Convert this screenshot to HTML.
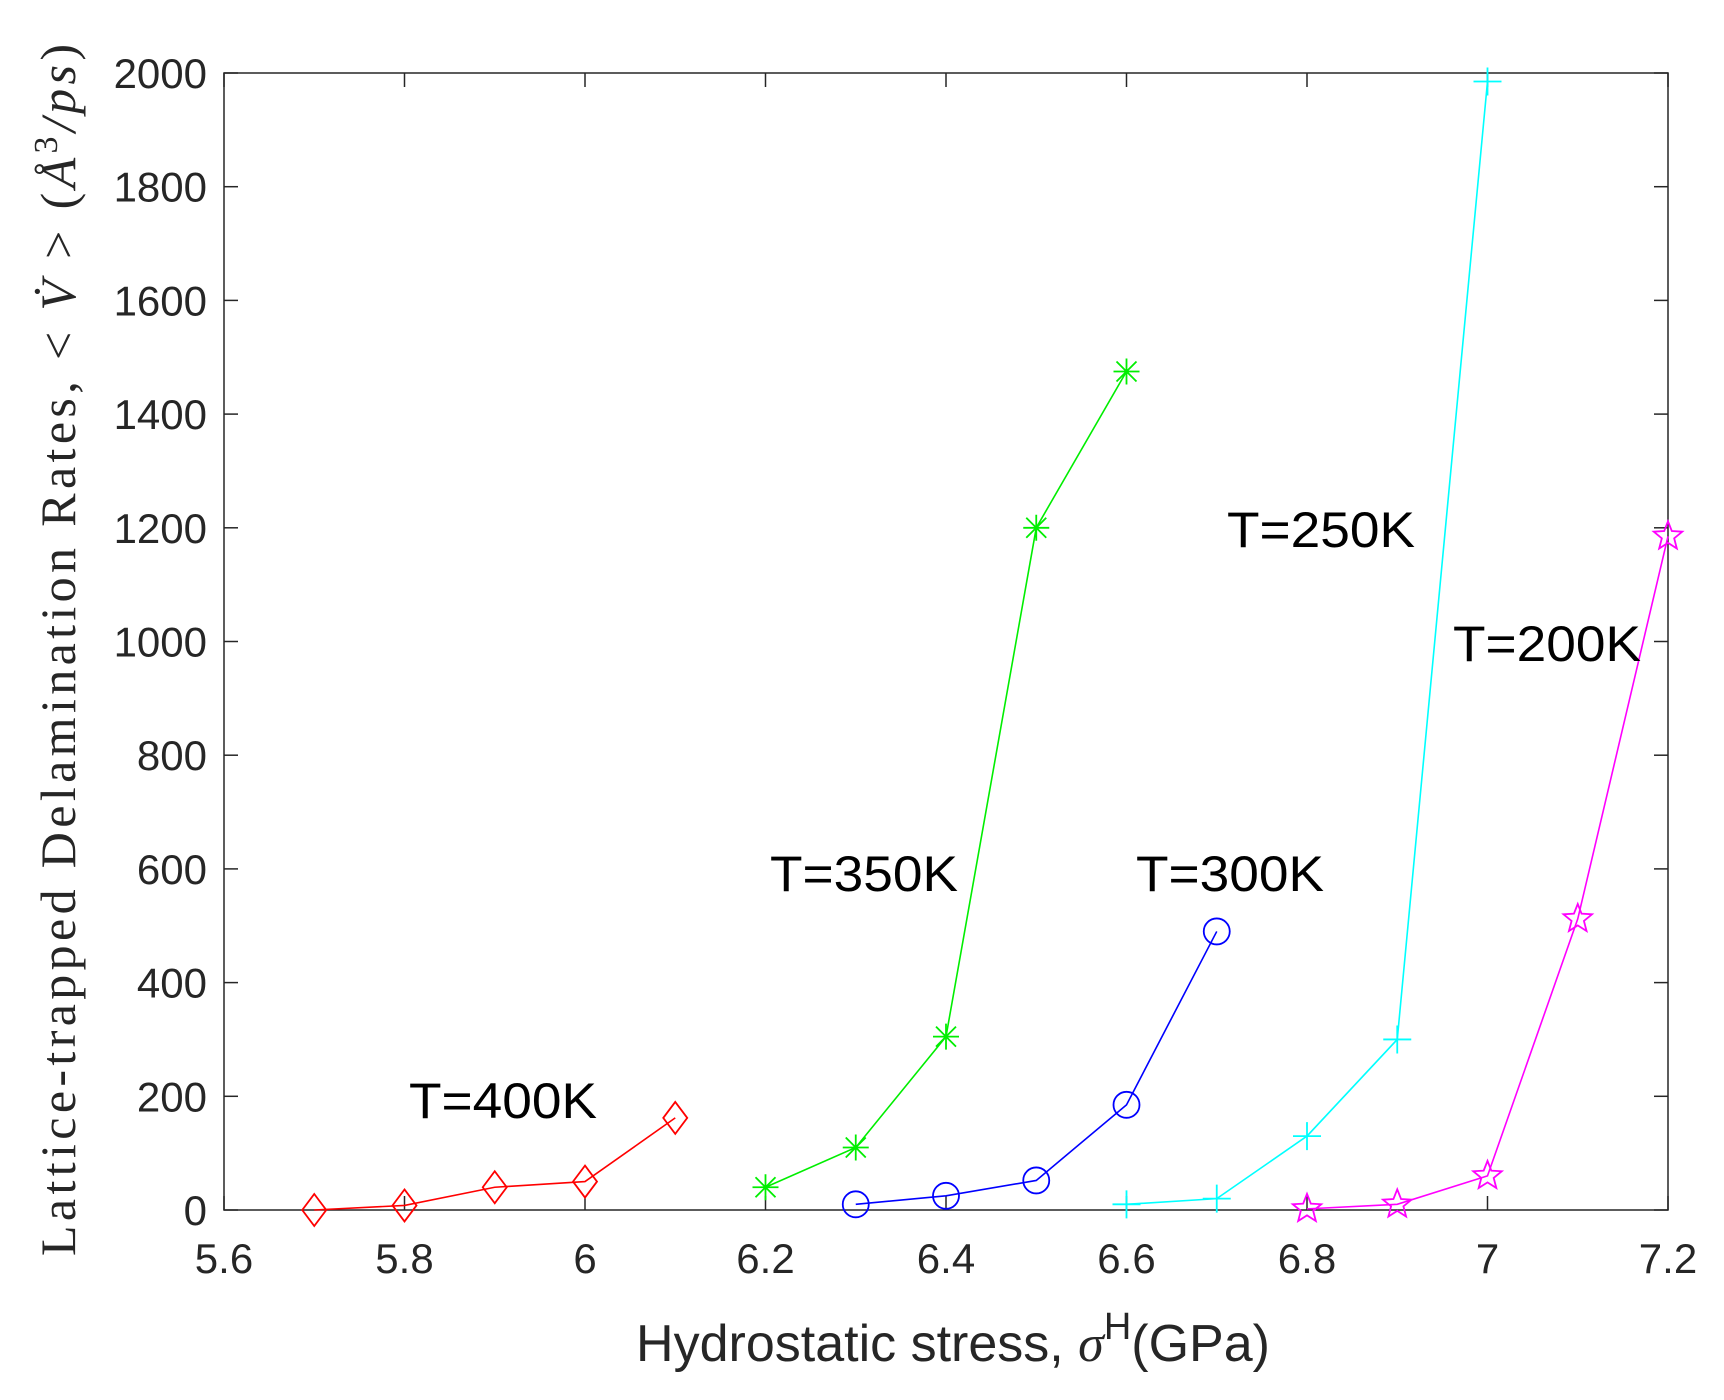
<!DOCTYPE html>
<html><head><meta charset="utf-8"><style>
body{margin:0;background:#fff;}
svg{display:block;}
text{font-family:"Liberation Sans",sans-serif;fill:#262626;}
</style></head><body>
<svg id="s" width="1724" height="1400" xmlns="http://www.w3.org/2000/svg"></svg>
<script>
const s=document.getElementById('s');
const L=224,R=1668,T=73,B=1210;
const X=v=>L+(v-5.6)/1.6*(R-L), Y=v=>B-v/2000*(B-T);
let h='';
h+=`<rect x="${L}" y="${T}" width="${R-L}" height="${B-T}" fill="none" stroke="#262626" stroke-width="1.5"/>`;
for(let i=0;i<=8;i++){const v=5.6+i*0.2,x=X(v);
 h+=`<line x1="${x}" y1="${B}" x2="${x}" y2="${B-14}" stroke="#262626" stroke-width="1.5"/><line x1="${x}" y1="${T}" x2="${x}" y2="${T+14}" stroke="#262626" stroke-width="1.5"/>`;
 const lab=[5.6,5.8,6,6.2,6.4,6.6,6.8,7,7.2][i];
 h+=`<text x="${x}" y="1273" font-size="42" text-anchor="middle">${lab}</text>`;}
for(let i=0;i<=10;i++){const v=i*200,y=Y(v);
 h+=`<line x1="${L}" y1="${y}" x2="${L+14}" y2="${y}" stroke="#262626" stroke-width="1.5"/><line x1="${R}" y1="${y}" x2="${R-14}" y2="${y}" stroke="#262626" stroke-width="1.5"/>`;
 h+=`<text x="207" y="${y+15}" font-size="42" text-anchor="end">${v}</text>`;}
const series=[
 ['#ff0000','d',[[5.7,0],[5.8,8],[5.9,40],[6.0,50],[6.1,162]]],
 ['#00ee00','a',[[6.2,40],[6.3,110],[6.4,305],[6.5,1200],[6.6,1475]]],
 ['#0000ff','o',[[6.3,10],[6.4,25],[6.5,52],[6.6,185],[6.7,490]]],
 ['#00ffff','p',[[6.6,10],[6.7,20],[6.8,130],[6.9,300],[7.0,1985]]],
 ['#ff00ff','s',[[6.8,2],[6.9,10],[7.0,60],[7.1,512],[7.2,1185]]]];
for(const [c,m,d] of series){
 h+=`<polyline fill="none" stroke="${c}" stroke-width="1.6" points="${d.map(p=>X(p[0])+','+Y(p[1])).join(' ')}"/>`;
 for(const p of d){const x=X(p[0]),y=Y(p[1]);
  if(m=='d')h+=`<polygon points="${x},${y-16} ${x+12},${y} ${x},${y+16} ${x-12},${y}" fill="none" stroke="${c}" stroke-width="1.8"/>`;
  if(m=='o')h+=`<circle cx="${x}" cy="${y}" r="13" fill="none" stroke="${c}" stroke-width="1.8"/>`;
  if(m=='p')h+=`<path d="M${x-14},${y}H${x+14}M${x},${y-14}V${y+14}" stroke="${c}" stroke-width="1.8"/>`;
  if(m=='a')h+=`<path d="M${x-13},${y}H${x+13}M${x},${y-13}V${y+13}M${x-10},${y-10}L${x+10},${y+10}M${x-10},${y+10}L${x+10},${y-10}" stroke="${c}" stroke-width="1.8"/>`;
  if(m=='s'){let pts=[];for(let k=0;k<10;k++){const r=k%2?6.5:15,a=-Math.PI/2+k*Math.PI/5;pts.push((x+r*Math.cos(a))+','+(y+r*Math.sin(a)));}
   h+=`<polygon points="${pts.join(' ')}" fill="none" stroke="${c}" stroke-width="1.8"/>`;}
 }}
const labs=[['T=400K',409,1118],['T=350K',770,891],['T=300K',1136,891],['T=250K',1227,547],['T=200K',1453,661]];
for(const [t,x,y] of labs)h+=`<text x="${x}" y="${y}" font-size="50" textLength="188" lengthAdjust="spacingAndGlyphs" style="fill:#000">${t}</text>`;
h+=`<text x="953" y="1361" font-size="52" text-anchor="middle">Hydrostatic stress, <tspan font-family="Liberation Serif" font-style="italic">σ</tspan><tspan dy="-22" font-size="38">H</tspan><tspan dy="22">(GPa)</tspan></text>`;
h+=`<text transform="translate(75,650) rotate(-90)" font-size="50" text-anchor="middle" textLength="1212" lengthAdjust="spacing" style="font-family:'Liberation Serif',serif;fill:#262626">Lattice-trapped Delamination Rates, &lt; <tspan font-style="italic">V̇</tspan> &gt; (<tspan font-style="italic">Å</tspan><tspan dy="-18" font-size="34">3</tspan><tspan dy="18" font-style="italic">/ps</tspan>)</text>`;
s.innerHTML=h;
</script>
</body></html>
